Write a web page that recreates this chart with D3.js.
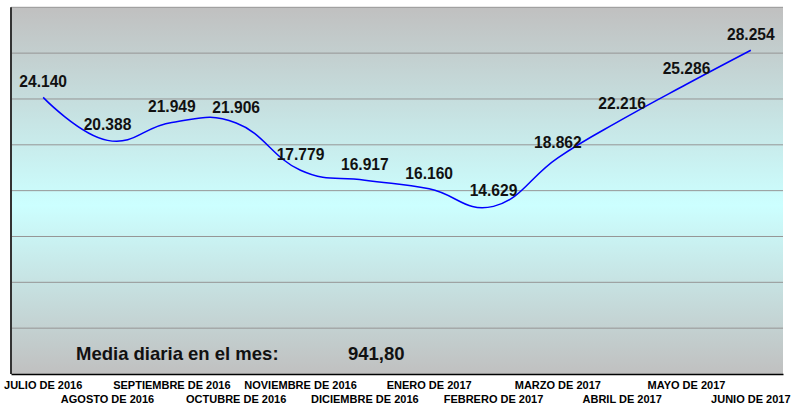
<!DOCTYPE html>
<html><head><meta charset="utf-8">
<script src="https://cdn.jsdelivr.net/npm/d3@7"></script>
<style>body{margin:0;background:#fff}svg{display:block}</style>
</head><body>
<script>
const categories = ["JULIO DE 2016","AGOSTO DE 2016","SEPTIEMBRE DE 2016","OCTUBRE DE 2016","NOVIEMBRE DE 2016","DICIEMBRE DE 2016","ENERO DE 2017","FEBRERO DE 2017","MARZO DE 2017","ABRIL DE 2017","MAYO DE 2017","JUNIO DE 2017"];
const values = [24140,20388,21949,21906,17779,16917,16160,14629,18862,22216,25286,28254];
const labels = ["24.140","20.388","21.949","21.906","17.779","16.917","16.160","14.629","18.862","22.216","25.286","28.254"];
const gridTicks = [0,4000,8000,12000,16000,20000,24000,28000,32000];
const mediaLabel = "Media diaria en el mes:";
const mediaValue = "941,80";

const W = 809, H = 405;
const m = {left: 11, right: 26, top: 7.3, bottom: 31};
const font = "'Liberation Sans', Arial, sans-serif";

const svg = d3.select("body").append("svg").attr("width", W).attr("height", H);
const x = d3.scaleBand().domain(categories).range([m.left, W - m.right]);
const y = d3.scaleLinear().domain([0, 32000]).range([H - m.bottom, m.top]);

const defs = svg.append("defs");
const g = defs.append("linearGradient").attr("id","bg").attr("x1",0).attr("y1",0).attr("x2",0).attr("y2",1);
g.append("stop").attr("offset","0%").attr("stop-color","#c0c0c0");
g.append("stop").attr("offset","54%").attr("stop-color","#ccffff");
g.append("stop").attr("offset","100%").attr("stop-color","#c0c0c0");

svg.append("rect").attr("x", m.left).attr("y", y(32000))
  .attr("width", W - m.right - m.left).attr("height", y(0) - y(32000))
  .attr("fill","url(#bg)");

// gridlines
svg.append("g").selectAll("line").data(gridTicks.filter(d => d > 0)).join("line")
  .attr("x1", m.left).attr("x2", W - m.right)
  .attr("y1", d => y(d)).attr("y2", d => y(d))
  .attr("stroke","#959595").attr("stroke-width",1);

// left border
svg.append("line").attr("x1", m.left).attr("x2", m.left).attr("y1", y(32000)).attr("y2", y(0))
  .attr("stroke","#333").attr("stroke-width",2);

// x axis
const xAxis = d3.axisBottom(x).tickSize(0).tickPadding(0);
const ax = svg.append("g").attr("transform", `translate(0,${y(0)})`).call(xAxis);
ax.select(".domain").attr("stroke","#000").attr("stroke-width",1.5);
ax.selectAll("text").attr("font-family", font).attr("font-weight","bold").attr("font-size","11px")
  .attr("fill","#000").attr("dy", null)
  .attr("y", (d,i) => i % 2 === 0 ? 15 : 29);

// line
const line = d3.line().x((d,i) => x(categories[i]) + x.bandwidth()/2).y(d => y(d)).curve(d3.curveCardinal.tension(-0.3));
svg.append("path").datum(values).attr("d", line).attr("fill","none").attr("stroke","#0000ff").attr("stroke-width",1.5);

// data labels
svg.append("g").selectAll("text").data(values).join("text")
  .attr("x", (d,i) => x(categories[i]) + x.bandwidth()/2)
  .attr("y", d => y(d) - 10)
  .attr("text-anchor","middle")
  .attr("font-family", font).attr("font-weight","bold").attr("font-size","15.6px").attr("fill","#111")
  .text((d,i) => labels[i]);

// media text
svg.append("text").attr("x", 76).attr("y", 360).attr("font-family", font).attr("font-weight","bold")
  .attr("font-size","18.5px").attr("fill","#111").text(mediaLabel);
svg.append("text").attr("x", 348).attr("y", 360).attr("font-family", font).attr("font-weight","bold")
  .attr("font-size","18.5px").attr("fill","#111").text(mediaValue);
</script>
</body></html>
